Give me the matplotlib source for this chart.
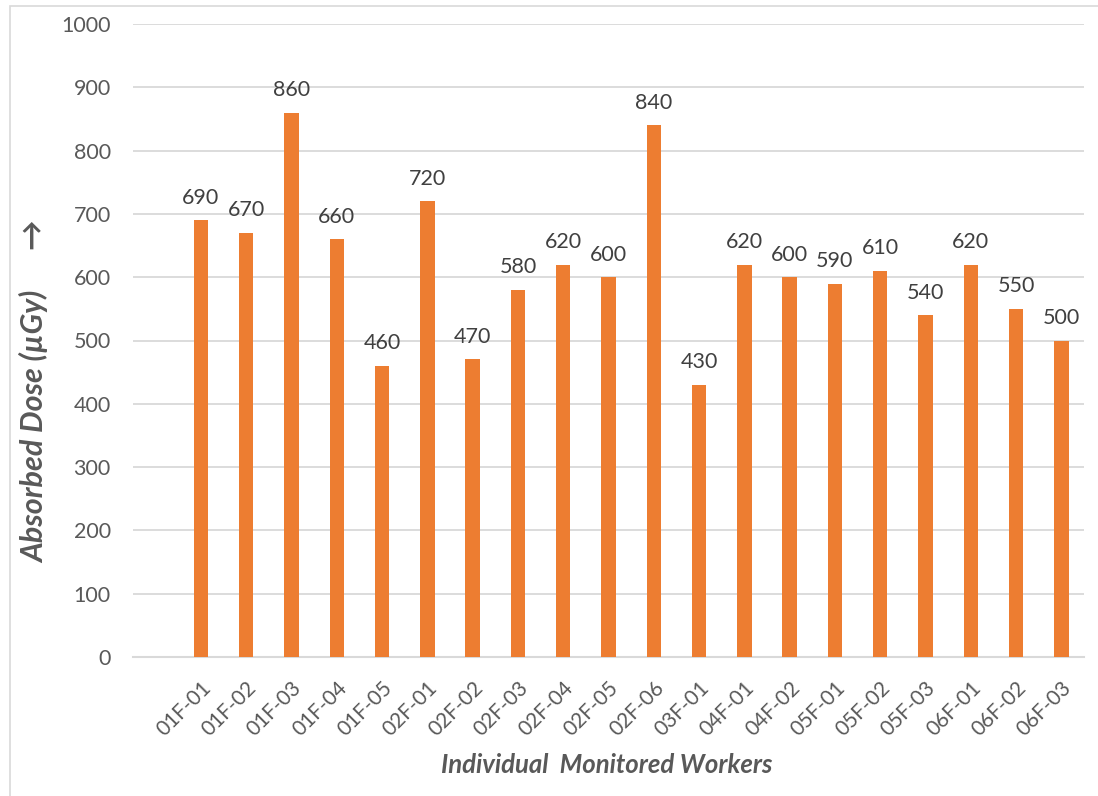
import matplotlib
matplotlib.use("Agg")
import matplotlib.pyplot as plt
from matplotlib.patches import Rectangle

workers = ["01F-01", "01F-02", "01F-03", "01F-04", "01F-05",
           "02F-01", "02F-02", "02F-03", "02F-04", "02F-05", "02F-06",
           "03F-01", "04F-01", "04F-02", "05F-01", "05F-02", "05F-03",
           "06F-01", "06F-02", "06F-03"]
dose = [690, 670, 860, 660, 460, 720, 470, 580, 620, 600, 840,
        430, 620, 600, 590, 610, 540, 620, 550, 500]
yticks = list(range(0, 1001, 100))

plt.rcParams["font.family"] = ["Lato", "DejaVu Sans"]

bar_color = "#ED7D31"
grid_color = "#D9D9D9"
text_color = "#595959"

fig = plt.figure(figsize=(10.98, 7.96), dpi=100)
ax = fig.add_axes([133 / 1098, 1 - 657 / 796, (1084 - 133) / 1098, (657 - 24) / 796])

x = list(range(len(workers)))
bars = ax.bar(x, dose, width=0.32, color=bar_color, zorder=3)

for b, v in zip(bars, dose):
    ax.annotate(f"{v}", (b.get_x() + b.get_width() / 2, v),
                xytext=(0, 9), textcoords="offset points",
                ha="center", va="bottom", fontsize=15.5, color="#404040")

ax.set_xlim(-1.5, len(workers) - 0.5)
ax.set_ylim(0, 1000)
ax.set_yticks(yticks)
ax.set_xticks(x)
ax.set_xticklabels(workers, rotation=45, ha="right", rotation_mode="anchor",
                   fontsize=15, color=text_color)
ax.tick_params(axis="y", labelsize=15.5, labelcolor=text_color, length=0, pad=16)
ax.tick_params(axis="x", length=0, pad=15)

ax.yaxis.grid(True, color=grid_color, linewidth=1.3, zorder=0)
for s in ("top", "right", "left"):
    ax.spines[s].set_visible(False)
ax.spines["bottom"].set_color(grid_color)
ax.spines["bottom"].set_linewidth(1.5)

fig.text(607 / 1098, 1 - 765 / 796, "Individual  Monitored Workers",
         ha="center", va="center", fontsize=18.5, fontweight="bold",
         fontstyle="italic", color=text_color)
fig.text(35 / 1098, 1 - 392 / 796, "Absorbed Dose (\u00b5Gy)      \u2192",
         ha="center", va="center", rotation=90, fontsize=22,
         fontweight="bold", fontstyle="italic", color=text_color)

# chart frame: only the top and left edges fall inside the image
fig.patches.append(Rectangle((10 / 1098, -0.1), 1.2, 1 - 6 / 796 + 0.1,
                             transform=fig.transFigure, fill=False,
                             edgecolor=grid_color, linewidth=1.2))

fig.savefig("out.png", dpi=100)
